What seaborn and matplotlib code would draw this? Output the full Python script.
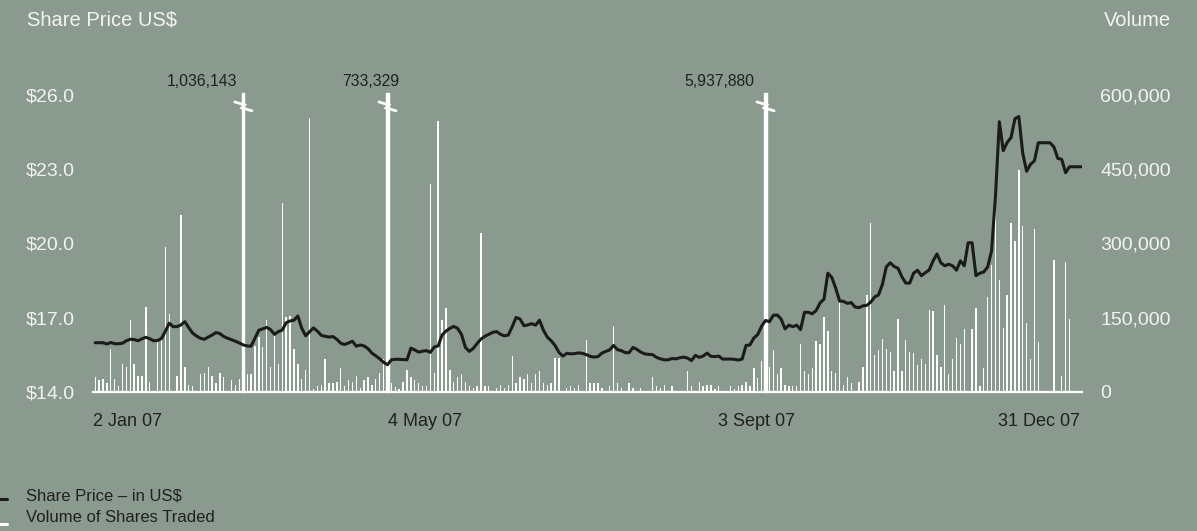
import numpy as np
import pandas as pd
import matplotlib.pyplot as plt
from matplotlib.lines import Line2D
from matplotlib.ticker import FuncFormatter
import seaborn as sns

# daily closing price, US$ (one value per trading day, 2 Jan 07 .. 31 Dec 07)
price = [
    15.99, 15.99, 15.99, 15.94, 16.00, 15.95, 15.95, 15.97, 16.07, 16.13,
    16.12, 16.07, 16.15, 16.21, 16.15, 16.07, 16.08, 16.16, 16.45, 16.78,
    16.64, 16.64, 16.71, 16.84, 16.60, 16.38, 16.26, 16.17, 16.13, 16.22,
    16.30, 16.40, 16.36, 16.24, 16.17, 16.11, 16.05, 15.98, 15.90, 15.86,
    15.85, 16.18, 16.50, 16.55, 16.61, 16.52, 16.33, 16.44, 16.50, 16.80,
    16.87, 16.90, 17.07, 16.58, 16.27, 16.43, 16.59, 16.46, 16.29, 16.25,
    16.22, 16.24, 16.13, 15.97, 15.92, 15.98, 16.05, 15.85, 15.90, 15.86,
    15.75, 15.57, 15.46, 15.34, 15.20, 15.10, 15.30, 15.32, 15.32, 15.31,
    15.30, 15.77, 15.70, 15.61, 15.65, 15.67, 15.60, 15.82, 15.86, 16.30,
    16.46, 16.57, 16.65, 16.57, 16.32, 15.80, 15.64, 15.76, 15.96, 16.14,
    16.25, 16.33, 16.41, 16.44, 16.33, 16.27, 16.30, 16.64, 17.01, 16.95,
    16.68, 16.71, 16.76, 16.70, 16.90, 16.50, 16.22, 16.07, 15.88, 15.60,
    15.45, 15.56, 15.54, 15.55, 15.58, 15.56, 15.51, 15.44, 15.41, 15.43,
    15.57, 15.64, 15.70, 15.88, 15.71, 15.67, 15.59, 15.59, 15.80, 15.72,
    15.61, 15.54, 15.52, 15.51, 15.40, 15.34, 15.30, 15.30, 15.35, 15.34,
    15.38, 15.41, 15.37, 15.27, 15.48, 15.40, 15.45, 15.57, 15.44, 15.43,
    15.45, 15.33, 15.33, 15.33, 15.32, 15.29, 15.33, 15.88, 15.90, 16.18,
    16.32, 16.66, 16.89, 16.84, 17.10, 17.11, 16.95, 16.55, 16.70, 16.64,
    16.70, 16.52, 17.22, 17.22, 17.16, 17.29, 17.60, 17.75, 18.80, 18.63,
    18.20, 17.68, 17.66, 17.58, 17.61, 17.43, 17.41, 17.48, 17.50, 17.63,
    17.84, 17.92, 18.35, 19.06, 19.22, 19.07, 19.00, 18.65, 18.40, 18.40,
    18.80, 18.92, 18.70, 18.82, 18.93, 19.30, 19.58, 19.22, 19.10, 19.16,
    19.10, 18.92, 19.30, 19.10, 20.03, 20.03, 18.70, 18.80, 18.85, 19.05,
    19.70, 21.90, 24.92, 23.75, 24.08, 24.28, 25.04, 25.13, 23.65, 22.92,
    23.20, 23.34, 24.07, 24.07, 24.07, 24.07, 23.90, 23.44, 23.40, 22.86,
    23.10, 23.10, 23.10, 23.10,
]

# daily volume of shares traded, thousands
volume_k = [
    31, 24, 26, 19, 87, 26, 12, 57, 51, 145,
    57, 32, 32, 172, 21, 0, 100, 105, 292, 158,
    0, 32, 358, 50, 14, 12, 0, 36, 39, 51,
    32, 19, 38, 30, 0, 24, 14, 26, 1036.143, 36,
    36, 92, 112, 90, 145, 50, 114, 57, 382, 152,
    154, 87, 57, 26, 44, 554, 7, 12, 14, 67,
    19, 19, 21, 48, 12, 24, 21, 32, 9, 24,
    30, 14, 26, 39, 66, 733.329, 19, 11, 7, 21,
    44, 30, 24, 18, 12, 12, 421, 38, 547, 145,
    170, 44, 21, 30, 36, 21, 12, 9, 12, 322,
    12, 12, 0, 9, 14, 9, 14, 73, 19, 30,
    26, 36, 19, 36, 42, 19, 14, 19, 68, 68,
    0, 9, 12, 9, 14, 0, 105, 19, 19, 19,
    9, 0, 12, 134, 19, 9, 0, 19, 9, 0,
    9, 0, 0, 30, 12, 9, 14, 0, 12, 0,
    0, 0, 43, 12, 0, 21, 12, 14, 14, 7,
    12, 0, 0, 12, 7, 12, 14, 21, 12, 49,
    28, 63, 5937.88, 51, 85, 36, 49, 14, 12, 12,
    12, 97, 43, 36, 48, 104, 97, 152, 123, 43,
    39, 179, 14, 30, 19, 0, 21, 51, 195, 342,
    75, 85, 108, 87, 81, 43, 147, 43, 105, 81,
    79, 55, 67, 57, 166, 164, 75, 51, 176, 36,
    67, 110, 97, 127, 0, 127, 170, 12, 49, 191,
    257, 403, 226, 130, 195, 342, 306, 448, 335, 140,
    67, 329, 100, 0, 0, 0, 267, 0, 32, 263,
    147, 0, 0, 0,
]

break_labels = ["1,036,143", "733,329", "5,937,880"]
break_label_day = [27.4, 70.6, 160.2]
price_ticks = [14, 17, 20, 23, 26]
volume_ticks = [0, 150000, 300000, 450000, 600000]
date_pos = [8.4, 84.5, 169.7, 242.2]
date_labels = ["2 Jan 07", "4 May 07", "3 Sept 07", "31 Dec 07"]

BG = "#8a9a8f"
DARK = "#202020"
LIGHT = "#f3f3f3"

sns.set_style("white", {"axes.facecolor": BG, "figure.facecolor": BG})
plt.rcParams["font.family"] = ["Liberation Sans", "DejaVu Sans"]

df = pd.DataFrame({"day": np.arange(len(price)), "price": price,
                   "volume": np.array(volume_k) * 1000})
cap = 600000
normal = df[df["volume"] <= cap]
broken = df[df["volume"] > cap]

fig = plt.figure(figsize=(11.97, 5.31), dpi=100)
ax = fig.add_axes([0.0779, 0.2618, 0.826, 0.5593])

# volume bars (white)
sns.barplot(data=normal, x="day", y="volume", native_scale=True, width=0.35,
            color="white", saturation=1, errorbar=None, ax=ax, linewidth=0)
# bars running off the scale, with a break mark
ax.bar(broken["day"], cap * 1.008, width=0.6, color="white", clip_on=False)
for d in broken["day"]:
    ax.plot([d - 2.2, d + 0.35, d - 0.35, d + 2.2], [586000, 580000, 574000, 568000],
            color="white", lw=2, clip_on=False, solid_joinstyle="miter")
for x, lab in zip(break_label_day, break_labels):
    ax.text(x, 628000, lab, ha="center", va="center", color=DARK,
            fontsize=11.3, clip_on=False)

ax.set_xlim(-0.5, 253.2)
ax.set_ylim(0, cap)
ax.set_xlabel("")
ax.set_ylabel("")

# share price line
ax2 = ax.twinx()
sns.lineplot(data=df, x="day", y="price", color="#1b1b1b", lw=2.2, ax=ax2)
ax2.set_ylim(14, 26)
ax2.set_xlim(-0.5, 253.2)
ax2.set_ylabel("")

ax.yaxis.tick_right()
ax2.yaxis.tick_left()
ax.set_yticks(volume_ticks)
ax.yaxis.set_major_formatter(FuncFormatter(lambda v, p: f"{int(v):,}"))
ax2.set_yticks(price_ticks)
ax2.yaxis.set_major_formatter(FuncFormatter(lambda v, p: f"${v:.1f}"))
ax.tick_params(axis="y", length=0, pad=13, labelcolor=LIGHT, labelsize=14)
ax2.tick_params(axis="y", length=0, pad=13, labelcolor=LIGHT, labelsize=14)

ax.set_xticks(date_pos)
ax.set_xticklabels(date_labels)
ax.tick_params(axis="x", length=0, pad=15, labelcolor=DARK, labelsize=13)

for a in (ax, ax2):
    for s in a.spines.values():
        s.set_visible(False)
ax.spines["bottom"].set_visible(True)
ax.spines["bottom"].set_color("white")
ax.spines["bottom"].set_linewidth(1.6)
ax.grid(False)
ax2.grid(False)

fig.text(27 / 1197, 1 - 20 / 531, "Share Price US$", color=LIGHT, fontsize=14.5, va="center")
fig.text(1171 / 1197, 1 - 20 / 531, "Volume", color=LIGHT, fontsize=14.5, va="center", ha="right")

# legend
fig.add_artist(Line2D([0, 7 / 1197], [1 - 499 / 531] * 2, color="#1b1b1b", lw=2.2))
fig.add_artist(Line2D([0, 7 / 1197], [1 - 524 / 531] * 2, color="white", lw=2.2))
fig.text(26 / 1197, 1 - 496 / 531, "Share Price \u2013 in US$", color=DARK, fontsize=12, va="center")
fig.text(26 / 1197, 1 - 518 / 531, "Volume of Shares Traded", color=DARK, fontsize=12, va="center")

fig.savefig("out.png", dpi=100, facecolor=BG)
